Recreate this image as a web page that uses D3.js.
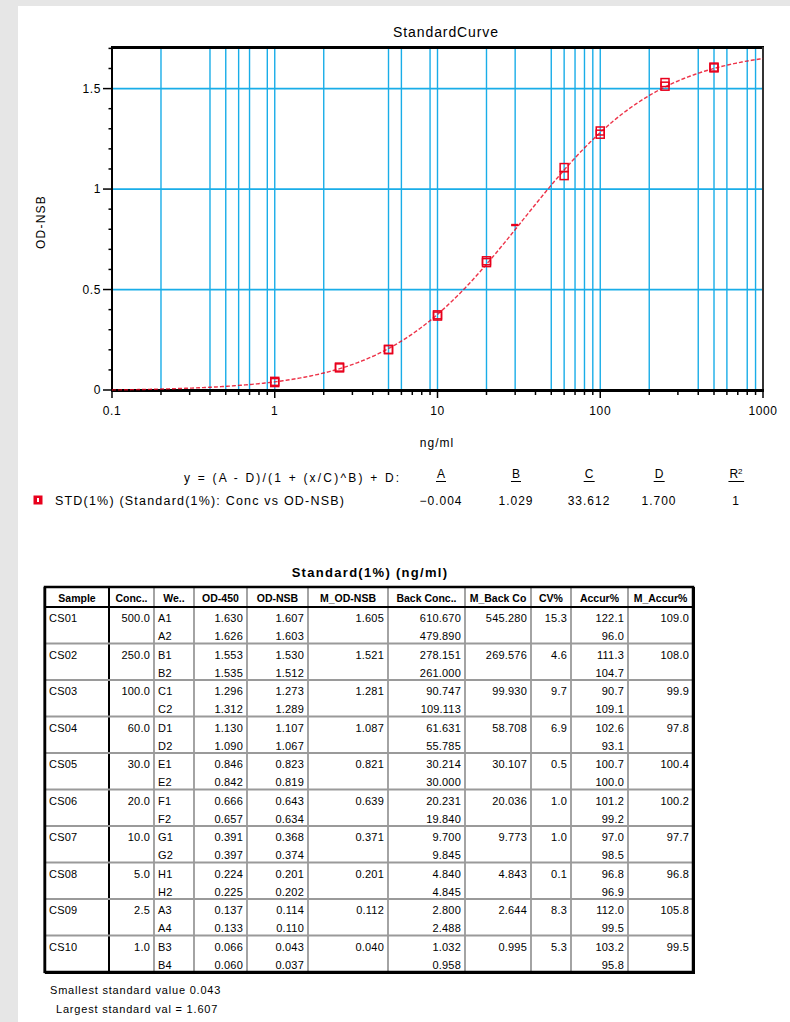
<!DOCTYPE html>
<html lang="en">
<head>
<meta charset="utf-8">
<title>StandardCurve</title>
<script src="https://cdn.jsdelivr.net/npm/d3@7"></script>
<style>
  body{margin:0;background:#e6e6e6;font-family:"Liberation Sans",Arial,sans-serif;}
  svg text{font-family:"Liberation Sans",Arial,sans-serif;fill:#000;}
</style>
</head>
<body>
<div id="chart"></div>
<script>
// ---- data ----
var samples = ["CS01","CS02","CS03","CS04","CS05","CS06","CS07","CS08","CS09","CS10"]
var conc = [500.0, 250.0, 100.0, 60.0, 30.0, 20.0, 10.0, 5.0, 2.5, 1.0]
var wells = [["A1","A2"],["B1","B2"],["C1","C2"],["D1","D2"],["E1","E2"],["F1","F2"],["G1","G2"],["H1","H2"],["A3","A4"],["B3","B4"]]
var od450 = [[1.630,1.626],[1.553,1.535],[1.296,1.312],[1.130,1.090],[0.846,0.842],[0.666,0.657],[0.391,0.397],[0.224,0.225],[0.137,0.133],[0.066,0.060]]
var odNsb = [[1.607,1.603],[1.530,1.512],[1.273,1.289],[1.107,1.067],[0.823,0.819],[0.643,0.634],[0.368,0.374],[0.201,0.202],[0.114,0.110],[0.043,0.037]]
var mOdNsb = [1.605,1.521,1.281,1.087,0.821,0.639,0.371,0.201,0.112,0.040]
var backConc = [["610.670","479.890"],["278.151","261.000"],["90.747","109.113"],["61.631","55.785"],["30.214","30.000"],["20.231","19.840"],["9.700","9.845"],["4.840","4.845"],["2.800","2.488"],["1.032","0.958"]]
var mBackConc = ["545.280","269.576","99.930","58.708","30.107","20.036","9.773","4.843","2.644","0.995"]
var cvPct = ["15.3","4.6","9.7","6.9","0.5","1.0","1.0","0.1","8.3","5.3"]
var accur = [["122.1","96.0"],["111.3","104.7"],["90.7","109.1"],["102.6","93.1"],["100.7","100.0"],["101.2","99.2"],["97.0","98.5"],["96.8","96.9"],["112.0","99.5"],["103.2","95.8"]]
var mAccur = ["109.0","108.0","99.9","97.8","100.4","100.2","97.7","96.8","105.8","99.5"]
var excluded = ["CS05"]

// fit parameters (4PL)
var fitNames = ["A","B","C","D","R^2"]
var fitValues = [-0.004, 1.029, 33.612, 1.700, 1]

// axes
var xTickValues = [0.1, 1, 10, 100, 1000]
var xGridValues = [0.2,0.4,0.5,0.6,0.7,0.9,1,2,5,6,9,10,20,30,50,60,70,80,90,100,200,400,500,600,800,900]
var yTickValues = [0, 0.5, 1, 1.5]
var yTickLabels = ["0","0.5","1","1.5"]

var headers = ["Sample","Conc..","We..","OD-450","OD-NSB","M_OD-NSB","Back Conc..","M_Back Co","CV%","Accur%","M_Accur%"]

var W = 790, H = 1022
var svg = d3.select("#chart").append("svg").attr("width",W).attr("height",H)
svg.append("rect").attr("x",0).attr("y",0).attr("width",W).attr("height",H).attr("fill","#e6e6e6")
svg.append("rect").attr("x",18).attr("y",6).attr("width",W-18).attr("height",H-6).attr("fill","#fff")

var gridBlue = "#19ade8"
var red = "#e8001c"

var x = d3.scaleLog().domain([0.1,1000]).range([112,763])
var y = d3.scaleLinear().domain([0,1.707]).range([390,47])

// title
svg.append("text").attr("x",446).attr("y",37).attr("text-anchor","middle")
  .attr("font-size",14).attr("letter-spacing",0.9).text("StandardCurve")

// grid
svg.selectAll(".vgrid").data(xGridValues).enter().append("line")
  .attr("x1",function(d){return x(d)}).attr("x2",function(d){return x(d)})
  .attr("y1",y.range()[1]).attr("y2",y.range()[0])
  .attr("stroke",gridBlue).attr("stroke-width",1.4)
svg.selectAll(".hgrid").data(yTickValues.slice(1)).enter().append("line")
  .attr("x1",112).attr("x2",763)
  .attr("y1",function(d){return y(d)}).attr("y2",function(d){return y(d)})
  .attr("stroke",gridBlue).attr("stroke-width",1.8)

// frame
svg.append("line").attr("x1",111).attr("x2",764).attr("y1",47.5).attr("y2",47.5).attr("stroke","#000").attr("stroke-width",3)
svg.append("line").attr("x1",763).attr("x2",763).attr("y1",47).attr("y2",391).attr("stroke","#333").attr("stroke-width",2)
svg.append("line").attr("x1",112).attr("x2",112).attr("y1",46).attr("y2",391).attr("stroke","#000").attr("stroke-width",2)
svg.append("line").attr("x1",111).attr("x2",764).attr("y1",390.5).attr("y2",390.5).attr("stroke","#000").attr("stroke-width",3)

// x ticks (all 1..9 per decade)
var xMinor = []
;[0.1,1,10,100].forEach(function(dec){
  for(var k=1;k<=9;k++){ xMinor.push(k*dec) }
})
xMinor.push(1000)
svg.selectAll(".xtick").data(xMinor).enter().append("line")
  .attr("x1",function(d){return x(d)}).attr("x2",function(d){return x(d)})
  .attr("y1",391).attr("y2",function(d){return xTickValues.indexOf(d)>=0 ? 398 : 395})
  .attr("stroke","#000").attr("stroke-width",1.5)
svg.selectAll(".xlab").data(xTickValues).enter().append("text")
  .attr("x",function(d){return x(d)}).attr("y",415).attr("text-anchor","middle")
  .attr("font-size",12).attr("letter-spacing",0.6).text(function(d){return d})
svg.append("text").attr("x",437).attr("y",447).attr("text-anchor","middle")
  .attr("font-size",12).attr("letter-spacing",1).text("ng/ml")

// y ticks
var yMinor = d3.range(0,18).map(function(i){return i/10})
svg.selectAll(".ytick").data(yMinor).enter().append("line")
  .attr("x1",function(d){return yTickValues.indexOf(d)>=0 ? 103 : 108.5}).attr("x2",111)
  .attr("y1",function(d){return y(d)}).attr("y2",function(d){return y(d)})
  .attr("stroke","#000").attr("stroke-width",1.5)
svg.selectAll(".ylab").data(yTickValues).enter().append("text")
  .attr("x",101).attr("y",function(d){return y(d)+4}).attr("text-anchor","end")
  .attr("font-size",12).attr("letter-spacing",0.6).text(function(d,i){return yTickLabels[i]})
svg.append("text").attr("transform","translate(45,222) rotate(-90)").attr("text-anchor","middle")
  .attr("font-size",12).attr("letter-spacing",1.2).text("OD-NSB")

// fitted 4PL curve
function fourPL(v){
  var A=fitValues[0],B=fitValues[1],C=fitValues[2],D=fitValues[3]
  return (A-D)/(1+Math.pow(v/C,B))+D
}
var curveX = d3.range(0,401).map(function(i){return Math.pow(10,-1+i/100)})
var line = d3.line().x(function(d){return x(d)}).y(function(d){return y(Math.max(0,fourPL(d)))})
svg.append("path").datum(curveX).attr("d",line).attr("fill","none")
  .attr("stroke",red).attr("stroke-width",1.4).attr("stroke-dasharray","4,2").attr("opacity",0.8)

// points
var pts = []
samples.forEach(function(s,i){
  odNsb[i].forEach(function(v){ pts.push({s:s,c:conc[i],v:v}) })
})
svg.selectAll(".pt").data(pts.filter(function(d){return excluded.indexOf(d.s)<0})).enter().append("rect")
  .attr("x",function(d){return x(d.c)-4}).attr("y",function(d){return y(d.v)-4})
  .attr("width",8).attr("height",8).attr("fill","none").attr("stroke",red).attr("stroke-width",1.5)
svg.selectAll(".ex").data(pts.filter(function(d){return excluded.indexOf(d.s)>=0})).enter().append("line")
  .attr("x1",function(d){return x(d.c)-4}).attr("x2",function(d){return x(d.c)+3})
  .attr("y1",function(d){return y(d.v)}).attr("y2",function(d){return y(d.v)})
  .attr("stroke",red).attr("stroke-width",1.6)

// legend / fit summary
svg.append("text").attr("x",184).attr("y",482).attr("font-size",12).attr("letter-spacing",2.2)
  .text("y = (A - D)/(1 + (x/C)^B) + D:")
var fitX = [441,516,589,659,736]
fitNames.forEach(function(n,i){
  var t = svg.append("text").attr("x",fitX[i]).attr("y",478).attr("text-anchor","middle").attr("font-size",12)
  if(n=="R^2"){ t.text("R"); t.append("tspan").attr("font-size",8).attr("dy",-4).text("2") }
  else t.text(n)
  var bb = t.node().getBBox()
  svg.append("line").attr("x1",bb.x-1).attr("x2",bb.x+bb.width+1).attr("y1",481.5).attr("y2",481.5).attr("stroke","#000")
  svg.append("text").attr("x",fitX[i]).attr("y",505).attr("text-anchor","middle").attr("font-size",12)
    .attr("letter-spacing",1).text(i==4 ? fitValues[i] : d3.format(".3f")(fitValues[i]))
})
svg.append("rect").attr("x",33.5).attr("y",495.5).attr("width",9).attr("height",9).attr("fill",red)
svg.append("rect").attr("x",37).attr("y",498).attr("width",2).attr("height",4).attr("fill","#fff")
svg.append("text").attr("x",55).attr("y",505).attr("font-size",12.5).attr("letter-spacing",1.2)
  .text("STD(1%) (Standard(1%): Conc vs OD-NSB)")

// ---- table ----
svg.append("text").attr("x",370).attr("y",577).attr("text-anchor","middle").attr("font-size",13)
  .attr("font-weight","bold").attr("letter-spacing",1.3).text("Standard(1%) (ng/ml)")

var colEdges = [45,109,154,194,247,308,388,465,531,571,628,693]
var tTop = 587, hdrBottom = 607, rowH = 36.5
var tBottom = hdrBottom + rowH*samples.length
var tbl = svg.append("g")

// header text
headers.forEach(function(h,i){
  tbl.append("text").attr("x",(colEdges[i]+colEdges[i+1])/2).attr("y",hdrBottom-5.5)
    .attr("text-anchor","middle").attr("font-size",10.5).attr("font-weight","bold").text(h)
})

// cell grid
var colLines = colEdges.slice(1,-1)
tbl.selectAll(".vline").data(colLines).enter().append("line")
  .attr("x1",function(d){return d}).attr("x2",function(d){return d})
  .attr("y1",tTop).attr("y2",tBottom)
  .attr("stroke",function(d,i){return i==0 ? "#000" : "#9a9a9a"})
  .attr("stroke-width",function(d,i){return i==0 ? 2 : 1.8})
tbl.selectAll(".hline").data(d3.range(1,samples.length)).enter().append("line")
  .attr("x1",colEdges[0]).attr("x2",colEdges[colEdges.length-1])
  .attr("y1",function(d){return hdrBottom+d*rowH}).attr("y2",function(d){return hdrBottom+d*rowH})
  .attr("stroke","#9a9a9a").attr("stroke-width",2)
tbl.append("line").attr("x1",colEdges[0]).attr("x2",colEdges[colEdges.length-1])
  .attr("y1",hdrBottom).attr("y2",hdrBottom).attr("stroke","#000").attr("stroke-width",2)
tbl.append("rect").attr("x",colEdges[0]).attr("y",tTop)
  .attr("width",colEdges[colEdges.length-1]-colEdges[0]).attr("height",tBottom-tTop)
  .attr("fill","none").attr("stroke","#000").attr("stroke-width",2.5)
tbl.append("line").attr("x1",colEdges[0]-0.5).attr("x2",colEdges[0]-0.5).attr("y1",tTop).attr("y2",tBottom+1)
  .attr("stroke","#000").attr("stroke-width",2)
tbl.append("line").attr("x1",colEdges[colEdges.length-1]+1).attr("x2",colEdges[colEdges.length-1]+1).attr("y1",tTop).attr("y2",tBottom+1.5)
  .attr("stroke","#000").attr("stroke-width",2)
tbl.append("line").attr("x1",colEdges[0]).attr("x2",colEdges[colEdges.length-1]+2).attr("y1",tBottom+1).attr("y2",tBottom+1)
  .attr("stroke","#000").attr("stroke-width",2)

function cell(col,row,sub,txt,align){
  var yy = hdrBottom + row*rowH + (sub==0 ? 15 : 33)
  var t = tbl.append("text").attr("y",yy).attr("font-size",11).attr("letter-spacing",0.2).text(txt)
  if(align=="left") t.attr("x",colEdges[col]+4)
  else t.attr("x",colEdges[col+1]-4).attr("text-anchor","end")
}
samples.forEach(function(s,i){
  cell(0,i,0,s,"left")
  cell(1,i,0,d3.format(".1f")(conc[i]))
  cell(5,i,0,d3.format(".3f")(mOdNsb[i]))
  cell(7,i,0,mBackConc[i])
  cell(8,i,0,cvPct[i])
  cell(10,i,0,mAccur[i])
  for(var r=0;r<2;r++){
    cell(2,i,r,wells[i][r],"left")
    cell(3,i,r,d3.format(".3f")(od450[i][r]))
    cell(4,i,r,d3.format(".3f")(odNsb[i][r]))
    cell(6,i,r,backConc[i][r])
    cell(9,i,r,accur[i][r])
  }
})

// footnotes
svg.append("text").attr("x",50).attr("y",994).attr("font-size",11).attr("letter-spacing",0.8).text("Smallest standard value 0.043")
svg.append("text").attr("x",56).attr("y",1013).attr("font-size",11).attr("letter-spacing",0.8).text("Largest standard val = 1.607")
</script>
</body>
</html>
